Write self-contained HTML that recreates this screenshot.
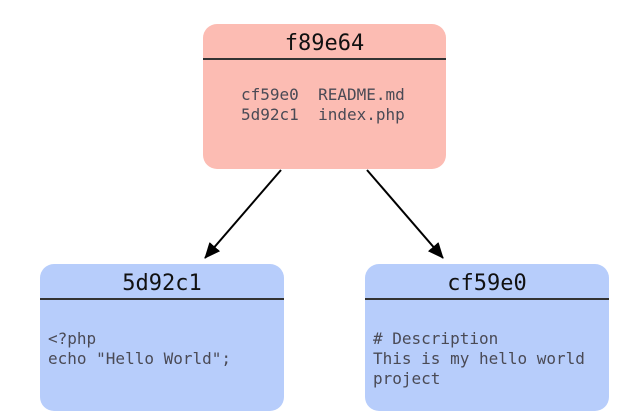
<!DOCTYPE html>
<html><head><style>
body{margin:0;width:631px;height:419px;background:#fff;position:relative;overflow:hidden;font-family:"DejaVu Sans Mono","Liberation Mono",monospace}
.b{position:absolute;border-radius:14px;box-sizing:border-box}
.t{position:absolute;left:0;right:0;top:0;height:34px;border-bottom:2px solid #333;text-align:center;font-size:22px;line-height:40px;color:#111}
.c{position:absolute;font-size:16px;line-height:20px;color:#4a4a55;white-space:pre}
</style></head><body>
<div class="b" style="left:203px;top:24px;width:243px;height:145px;background:#fcbcb3">
<div class="t">f89e64</div>
<div class="c" style="left:38px;top:61px">cf59e0  README.md
5d92c1  index.php</div></div>
<div class="b" style="left:40px;top:264px;width:244px;height:147px;background:#b7cdfb">
<div class="t">5d92c1</div>
<div class="c" style="left:8px;top:65px">&lt;?php
echo "Hello World";</div></div>
<div class="b" style="left:365px;top:264px;width:244px;height:147px;background:#b7cdfb">
<div class="t">cf59e0</div>
<div class="c" style="left:8px;top:65px"># Description
This is my hello world
project</div></div>
<svg width="631" height="419" style="position:absolute;left:0;top:0">
<defs><marker id="a" markerWidth="16" markerHeight="14" refX="15" refY="7" orient="auto" markerUnits="userSpaceOnUse"><path d="M0,0 L16,7 L0,14 z" fill="#000"/></marker></defs>
<line x1="281" y1="170" x2="205" y2="258" stroke="#000" stroke-width="2" marker-end="url(#a)"/>
<line x1="367" y1="170" x2="443" y2="258" stroke="#000" stroke-width="2" marker-end="url(#a)"/>
</svg>
</body></html>
